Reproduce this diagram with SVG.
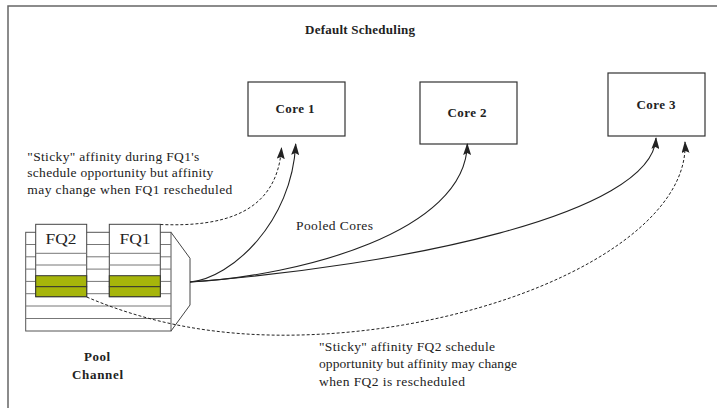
<svg xmlns="http://www.w3.org/2000/svg" width="717" height="408" viewBox="0 0 717 408">
<style>
text{font-family:"Liberation Serif","Times New Roman",serif;fill:#222}
.b{font-weight:bold;font-size:13px}
.t{font-size:13.5px}
.fq{font-size:15px}
.box{fill:#fff;stroke:#333;stroke-width:1.2}
.grid{stroke:#777;stroke-width:1;fill:none}
.c{fill:none;stroke:#222;stroke-width:1.1}
.d{fill:none;stroke:#222;stroke-width:1;stroke-dasharray:3,2}
.g{fill:#a6b50a;stroke:#333;stroke-width:1}
</style>
<defs>
<marker id="ah" markerUnits="userSpaceOnUse" markerWidth="12" markerHeight="8" refX="11" refY="4" orient="auto">
<path d="M0,0 L12,4 L0,8 L2,4 z" fill="#222"/>
</marker>
</defs>
<rect x="8" y="6" width="720" height="420" fill="#fff" stroke="#666" stroke-width="1.5"/>
<text class="b" x="360" y="34" text-anchor="middle" textLength="110">Default Scheduling</text>

<g id="core1"><rect class="box" x="248" y="82" width="97" height="54"/><text class="b" x="295" y="113" text-anchor="middle" textLength="39">Core 1</text></g>
<g id="core2"><rect class="box" x="420" y="82" width="97" height="62"/><text class="b" x="467" y="117" text-anchor="middle" textLength="39">Core 2</text></g>
<g id="core3"><rect class="box" x="608" y="73" width="97" height="63"/><text class="b" x="656" y="109" text-anchor="middle" textLength="39">Core 3</text></g>

<g id="pool">
<rect x="25.7" y="232.3" width="145.3" height="98.7" fill="#fff" stroke="#555" stroke-width="1"/>
<path class="grid" d="M25.7,244.5H171 M25.7,256.8H171 M25.7,269.1H171 M25.7,281.4H171 M25.7,293.7H171 M25.7,306H171 M25.7,318.5H171"/>
<path d="M171,232.3 L190,258.3 L190,305 L171,331" fill="none" stroke="#444" stroke-width="1"/>
<g id="fq2">
<rect x="35.7" y="224.3" width="51" height="72.4" fill="#fff" stroke="#444" stroke-width="1"/>
<path class="grid" d="M35.7,253.3H86.7 M35.7,265H86.7"/>
<rect class="g" x="35.7" y="275.7" width="51" height="11"/>
<rect class="g" x="35.7" y="286.7" width="51" height="10"/>
<text class="fq" x="61" y="244" text-anchor="middle" textLength="31" lengthAdjust="spacingAndGlyphs">FQ2</text>
</g>
<g id="fq1">
<rect x="109.3" y="224.3" width="51" height="72.4" fill="#fff" stroke="#444" stroke-width="1"/>
<path class="grid" d="M109.3,253.3H160.3 M109.3,265H160.3"/>
<rect class="g" x="109.3" y="275.7" width="51" height="11"/>
<rect class="g" x="109.3" y="286.7" width="51" height="10"/>
<text class="fq" x="135" y="244" text-anchor="middle" textLength="31" lengthAdjust="spacingAndGlyphs">FQ1</text>
</g>
<text class="b" x="97" y="361" text-anchor="middle" textLength="26">Pool</text>
<text class="b" x="97.5" y="379" text-anchor="middle" textLength="51">Channel</text>
</g>

<g id="connectors">
<path class="c" d="M190,282 C232,278 292,222 295.7,144" marker-end="url(#ah)"/>
<path class="d" d="M160.3,224.5 C222,227 277,214 281.5,148" marker-end="url(#ah)"/>
<path class="c" d="M190,282 C300,276 466,232 467.3,144" marker-end="url(#ah)"/>
<path class="c" d="M190,282 C400,266 652,215 656,138" marker-end="url(#ah)"/>
<path class="d" d="M86.7,297 C150,324 220,337 300,335 C500,330 690,240 685,142" marker-end="url(#ah)"/>
</g>

<g id="labels">
<text class="t" x="27.3" y="160.5" textLength="172">"Sticky" affinity during FQ1's</text>
<text class="t" x="27.3" y="177" textLength="186">schedule opportunity but affinity</text>
<text class="t" x="27.3" y="193.5" textLength="205">may change when FQ1 rescheduled</text>
<text class="t" x="296" y="230" textLength="77">Pooled Cores</text>
<text class="t" x="319" y="350.5" textLength="176">"Sticky" affinity FQ2 schedule</text>
<text class="t" x="319" y="368" textLength="198">opportunity but affinity may change</text>
<text class="t" x="319" y="385.5" textLength="146">when FQ2 is rescheduled</text>
</g>
</svg>
